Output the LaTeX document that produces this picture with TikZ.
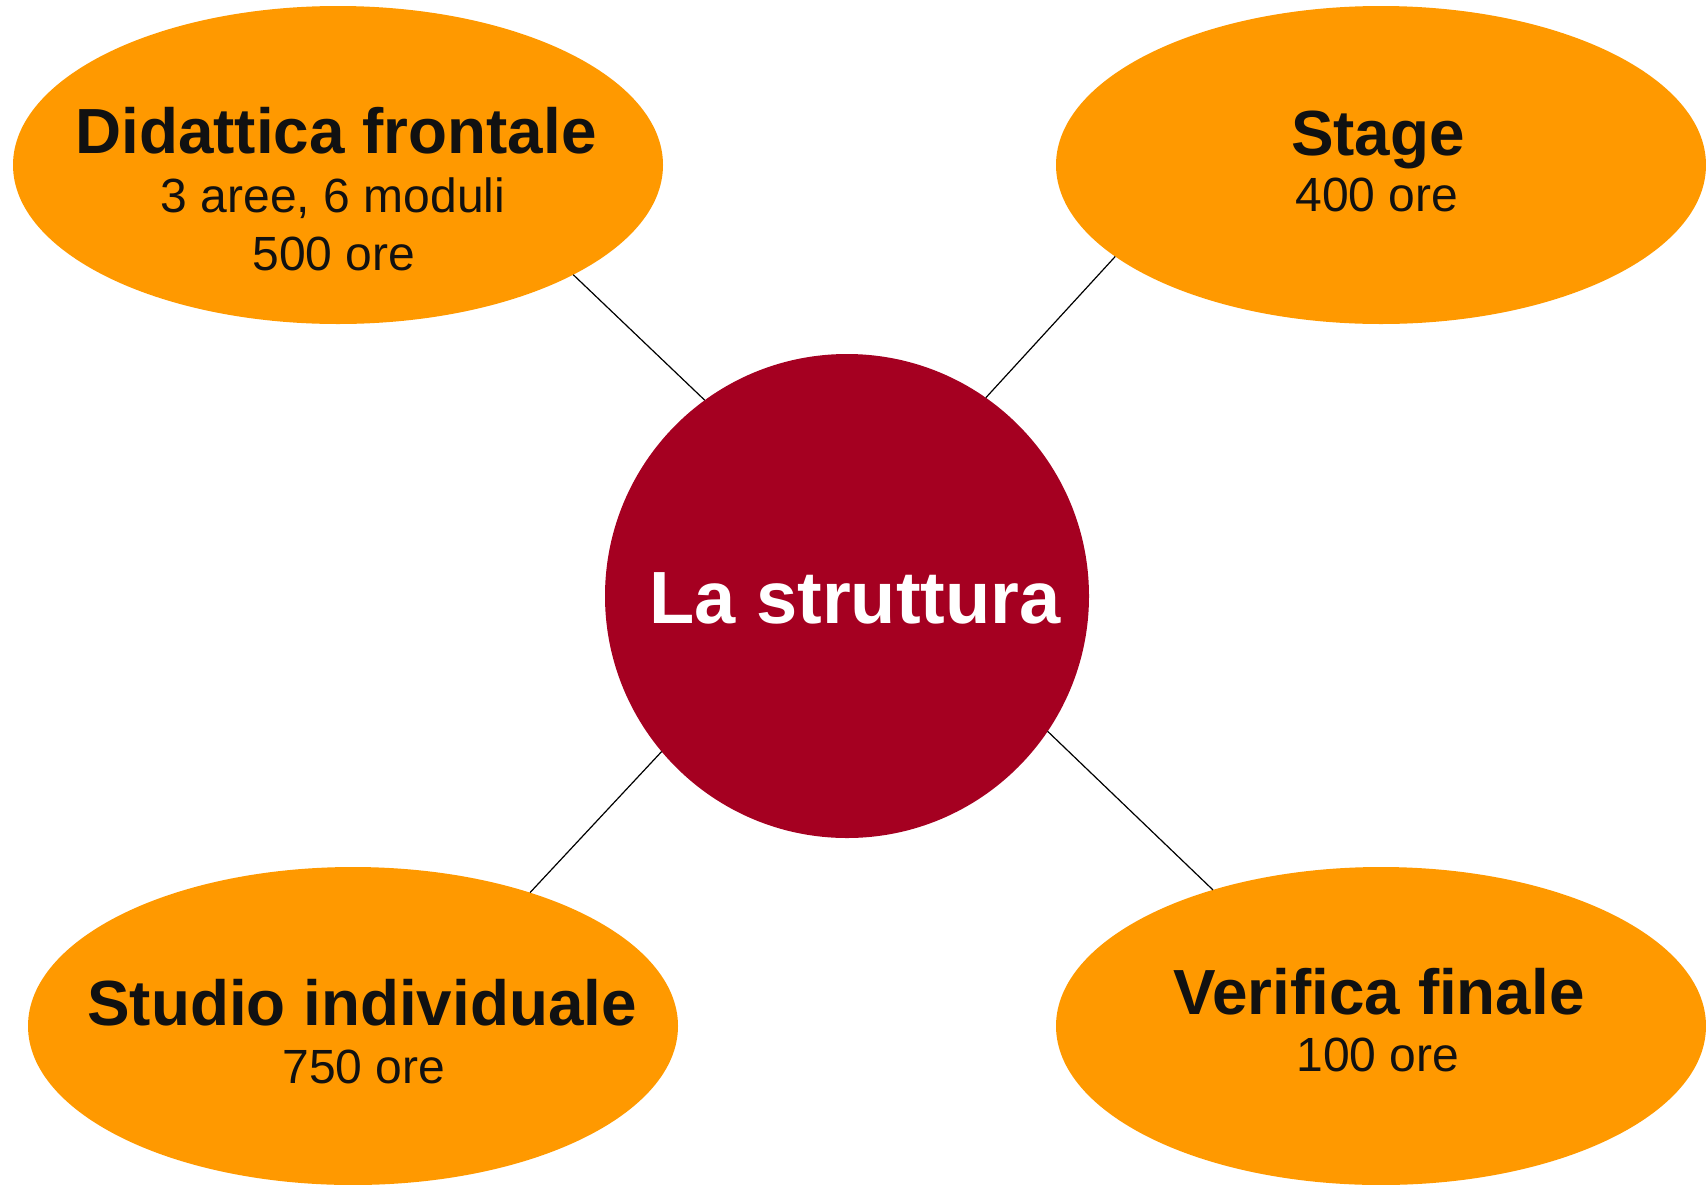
\documentclass[tikz,border=0pt]{standalone}
\usepackage{fontspec}
\setmainfont{Liberation Sans}
\usetikzlibrary{shapes.geometric}
\definecolor{orng}{RGB}{255,153,0}
\definecolor{wine}{RGB}{165,0,33}
\definecolor{ink}{RGB}{17,17,17}
\begin{document}
\begin{tikzpicture}[x=1pt,y=-1pt,
  blob/.style={ellipse,fill=orng,draw=none,minimum width=650pt,minimum height=318pt,inner sep=0pt,outer sep=0pt},
  hub/.style={circle,fill=wine,draw=none,minimum size=484pt,inner sep=0pt,outer sep=0pt},
  ttl/.style={anchor=base,inner sep=0pt,text=ink,font=\fontsize{63.8}{70}\selectfont\bfseries},
  sub/.style={anchor=base,inner sep=0pt,text=ink,font=\fontsize{48}{54}\selectfont},
  hubtxt/.style={anchor=base,inner sep=0pt,text=white,font=\fontsize{74}{80}\selectfont\bfseries},
  link/.style={draw=black,line width=1.2pt}]
\useasboundingbox (0,0) rectangle (1706,1184);
\node[blob] (tl) at (338,165) {};
\node[blob] (tr) at (1381,165) {};
\node[blob] (bl) at (353,1026) {};
\node[blob] (br) at (1381,1026) {};
\node[hub] (c) at (847,596) {};
\draw[link] (c.126) -- (tl.-25);
\draw[link] (c.55) -- (tr.199.3);
\draw[link] (c.220.3) -- (bl.37.5);
\draw[link] (c.-34.2) -- (br.141.4);
\node[ttl] (tlA) at (336,153) {Didattica frontale};
\node[sub] (tlB) at (333,212.7) {3 aree, 6 moduli};
\node[sub] (tlC) at (334,270) {500 ore};
\node[ttl] (trA) at (1378,155) {Stage};
\node[sub] (trB) at (1377,211.7) {400 ore};
\node[ttl] (blA) at (362,1025) {Studio individuale};
\node[sub] (blB) at (364,1083) {750 ore};
\node[ttl] (brA) at (1379,1014) {Verifica finale};
\node[sub] (brB) at (1378,1071.7) {100 ore};
\node[hubtxt] (cA) at (855,623) {La struttura};
\end{tikzpicture}
\end{document}
